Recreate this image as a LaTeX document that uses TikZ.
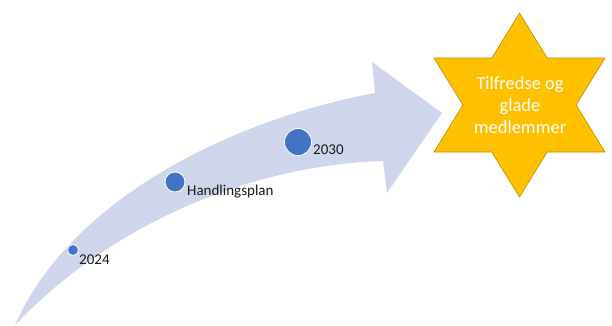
\documentclass[tikz,border=0pt]{standalone}
\usepackage{fontspec}
\setmainfont{Carlito}
\definecolor{arrowfill}{HTML}{CFD5EA}
\definecolor{dotblue}{HTML}{4472C4}
\definecolor{stargold}{HTML}{FFC000}
\definecolor{starline}{HTML}{BC8C00}
\definecolor{labeltext}{HTML}{1A1A1A}
\tikzset{
  dot/.style={circle, fill=dotblue, draw=white, line width=0.8pt, inner sep=0pt},
  milestone/.style={font=\fontsize{15}{18}\selectfont, text=labeltext, inner sep=0pt},
  goaltext/.style={font=\fontsize{18.5}{21.7}\selectfont, text=white, align=center, inner sep=0pt},
}
\begin{document}
\begin{tikzpicture}[x=1pt,y=-1pt]
\useasboundingbox (0,0) rectangle (612,325);
% curved arrow
\fill[arrowfill] (15,325) .. controls (70,200) and (230,120) .. (375,93)
  -- (372,62) -- (442,113) -- (387,193) -- (383,161)
  .. controls (250,165) and (110,225) .. (15,325) -- cycle;
% milestones
\node[dot, minimum size=11pt] (d1) at (73,250) {};
\node[dot, minimum size=20pt] (d2) at (175,182) {};
\node[dot, minimum size=27pt] (d3) at (298,142) {};
\node[milestone, anchor=base west] (l1) at (79,264) {2024};
\node[milestone, anchor=base west] (l2) at (187,195) {Handlingsplan};
\node[milestone, anchor=base west] (l3) at (313,154) {2030};
% star
\filldraw[fill=stargold, draw=starline, line width=0.6pt]
  (519.5,13) -- (547.2,58) -- (605,58) -- (576.1,105) -- (605,152) -- (547.2,152)
  -- (519.5,197) -- (491.8,152) -- (434,152) -- (462.9,105) -- (434,58) -- (491.8,58) -- cycle;
\node[goaltext] (goal) at (520,105) {Tilfredse og\\glade\\medlemmer};
\end{tikzpicture}
\end{document}
